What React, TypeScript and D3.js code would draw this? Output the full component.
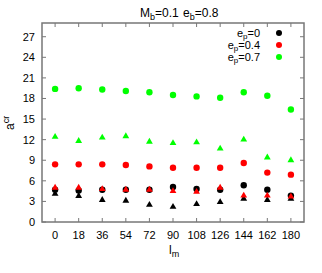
import React, { useEffect, useRef } from 'react';
import * as d3 from 'd3';

const lm = [0, 18, 36, 54, 72, 90, 108, 126, 144, 162, 180];
const yTicks = [0, 3, 6, 9, 12, 15, 18, 21, 24, 27];

// circles
const ep0Circle = [4.7, 4.6, 4.7, 4.7, 4.7, 5.1, 4.8, 4.7, 5.35, 4.7, 3.85];
const ep04Circle = [8.4, 8.4, 8.4, 8.3, 8.1, 7.9, 7.9, 7.9, 8.6, 7.2, 6.9];
const ep07Circle = [19.4, 19.5, 19.3, 19.1, 18.9, 18.5, 18.3, 18.1, 18.9, 18.4, 16.4];
// triangles
const ep0Tri = [4.1, 3.8, 3.2, 3.1, 2.5, 2.2, 2.6, 2.9, 3.4, 3.2, 3.4];
const ep04Tri = [5.0, 5.0, 4.8, 4.7, 4.7, 4.5, 4.4, 5.0, 3.85, 3.85, 3.7];
const ep07Tri = [12.4, 11.8, 12.3, 12.5, 11.7, 11.5, 11.6, 10.7, 12.0, 9.4, 9.0];

const legendLabels = ['0', '0.4', '0.7'];
const colors = ['#000000', '#ff0000', '#00ff00'];

const App: React.FC = () => {
  const ref = useRef<SVGSVGElement>(null);

  useEffect(() => {
    if (!ref.current) return;
    const svg = d3.select(ref.current);
    svg.selectAll('*').remove();

    const width = 322;
    const height = 273;
    const margin = { top: 23, right: 18, bottom: 51, left: 42 };
    const w = width - margin.left - margin.right;
    const h = height - margin.top - margin.bottom;
    const font = 'Liberation Sans, Arial, sans-serif';
    const frame = '#777';

    const x = d3.scaleLinear().domain([-10, 190]).range([0, w]);
    const y = d3.scaleLinear().domain([0, 29]).range([h, 0]);

    const g = svg.append('g').attr('transform', `translate(${margin.left},${margin.top})`);

    // ticks on all sides (inward)
    const tl = 4;
    yTicks.forEach(t => {
      g.append('line').attr('x1', 0).attr('x2', tl).attr('y1', y(t)).attr('y2', y(t)).attr('stroke', frame);
      g.append('line').attr('x1', w).attr('x2', w - tl).attr('y1', y(t)).attr('y2', y(t)).attr('stroke', frame);
      g.append('text').attr('x', -7).attr('y', y(t)).attr('dy', '0.35em')
        .attr('text-anchor', 'end').attr('font-family', font).attr('font-size', 11).text(t);
    });
    lm.forEach(t => {
      g.append('line').attr('x1', x(t)).attr('x2', x(t)).attr('y1', h).attr('y2', h - tl).attr('stroke', frame);
      g.append('line').attr('x1', x(t)).attr('x2', x(t)).attr('y1', 0).attr('y2', tl).attr('stroke', frame);
      g.append('text').attr('x', x(t)).attr('y', h + 17)
        .attr('text-anchor', 'middle').attr('font-family', font).attr('font-size', 11).text(t);
    });

    g.append('rect').attr('x', 0).attr('y', 0).attr('width', w).attr('height', h)
      .attr('fill', 'none').attr('stroke', frame).attr('stroke-width', 1.5);

    const tri = d3.symbol().type(d3.symbolTriangle).size(20);

    const drawCircles = (vals: number[], c: string) => {
      g.append('g').selectAll('circle').data(vals).join('circle')
        .attr('cx', (_, i) => x(lm[i])).attr('cy', d => y(d)).attr('r', 3.2).attr('fill', c);
    };
    const drawTris = (vals: number[], c: string) => {
      g.append('g').selectAll('path').data(vals).join('path')
        .attr('d', tri as any)
        .attr('transform', (d, i) => `translate(${x(lm[i])},${y(d)})`).attr('fill', c);
    };

    drawCircles(ep0Circle, colors[0]);
    drawTris(ep0Tri, colors[0]);
    drawCircles(ep04Circle, colors[1]);
    drawTris(ep04Tri, colors[1]);
    drawCircles(ep07Circle, colors[2]);
    drawTris(ep07Tri, colors[2]);

    // legend
    legendLabels.forEach((lab, i) => {
      const ly = 33 + i * 12;
      const t = svg.append('text').attr('x', 260).attr('y', ly + 4)
        .attr('text-anchor', 'end').attr('font-family', font).attr('font-size', 11);
      t.append('tspan').text('e');
      t.append('tspan').attr('font-size', 8).attr('dy', 1.5).text('p');
      t.append('tspan').attr('dy', -1.5).text('=' + lab);
      svg.append('circle').attr('cx', 279).attr('cy', ly).attr('r', 3).attr('fill', colors[i]);
    });

    // title
    const title = (tx: number, base: string, sub: string, val: string) => {
      const t = svg.append('text').attr('x', tx).attr('y', 17)
        .attr('font-family', font).attr('font-size', 12);
      t.append('tspan').text(base);
      t.append('tspan').attr('font-size', 9).attr('dy', 3).text(sub);
      t.append('tspan').attr('dy', -3).text(val);
    };
    title(140, 'M', 'b', '=0.1');
    title(183, 'e', 'b', '=0.8');

    // x label
    const xl = svg.append('text').attr('x', 169).attr('y', 254)
      .attr('font-family', font).attr('font-size', 12);
    xl.append('tspan').text('l');
    xl.append('tspan').attr('font-size', 9).attr('dy', 3).text('m');

    // y label
    const yl = svg.append('text').attr('transform', 'translate(14,130) rotate(-90)')
      .attr('font-family', font).attr('font-size', 12);
    yl.append('tspan').text('a');
    yl.append('tspan').attr('font-size', 9).attr('dy', -5).text('cr');
  }, []);

  return (
    <svg
      ref={ref}
      width={322}
      height={273}
      style={{ position: 'absolute', left: 0, top: 0, background: '#fff' }}
    />
  );
};

export default App;
